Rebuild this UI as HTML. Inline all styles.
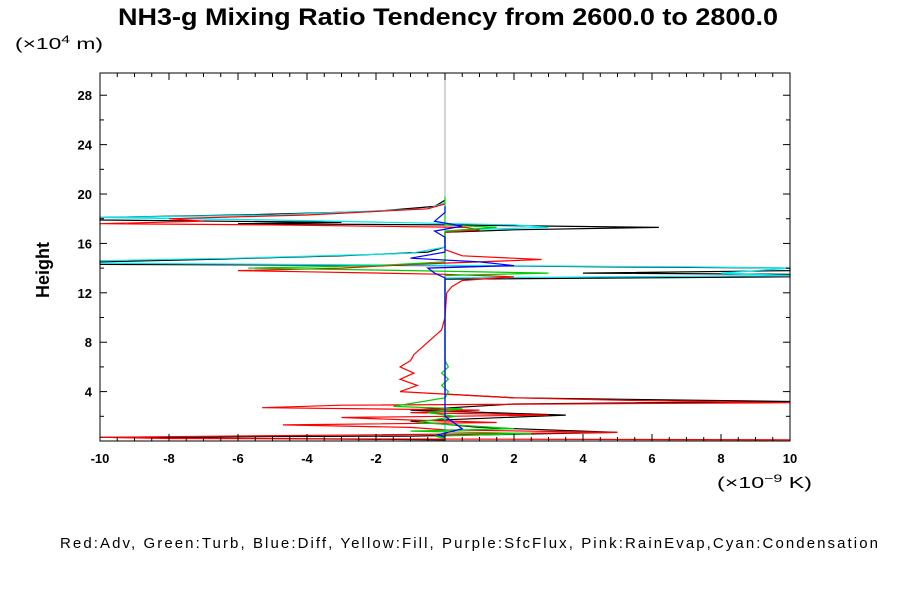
<!DOCTYPE html>
<html><head><meta charset="utf-8"><style>
body{margin:0;background:#fff;}
svg{display:block;font-family:"Liberation Sans",sans-serif;}
</style></head><body>
<svg id="c" width="900" height="600">
<text x="118" y="25" textLength="660" lengthAdjust="spacingAndGlyphs" font-size="24" font-weight="bold">NH3-g Mixing Ratio Tendency from 2600.0 to 2800.0</text>
<text x="15" y="49" font-size="16" textLength="88" lengthAdjust="spacingAndGlyphs">(×10<tspan dy="-6" font-size="11">4</tspan><tspan dy="6"> m)</tspan></text>
<text x="0" y="0" transform="translate(49,270) rotate(-90)" text-anchor="middle" font-size="18" font-weight="bold">Height</text>
<text x="717" y="488" font-size="16" textLength="95" lengthAdjust="spacingAndGlyphs">(×10<tspan dy="-6" font-size="11">−9</tspan><tspan dy="6"> K)</tspan></text>
<text x="60" y="548" font-size="15" textLength="818" lengthAdjust="spacing">Red:Adv, Green:Turb, Blue:Diff, Yellow:Fill, Purple:SfcFlux, Pink:RainEvap,Cyan:Condensation</text>
<g id="marks"></g>
<g id="axes"></g>
</svg>
<script>
const xTicks=[-10,-8,-6,-4,-2,0,2,4,6,8,10];
const yTicks=[4,8,12,16,20,24,28];
const black=[[19.5,0],[19,-0.3],[18.6,-2],[18.3,-6],[18.1,-10],[17.9,-10],[17.7,-3],[17.6,-6],[17.5,0],[17.3,6.2],[17.1,2],[16.9,0],[15.7,0],[15.3,-0.5],[15,-3],[14.7,-7],[14.5,-10],[14.3,-10],[14.2,0],[14.0,10],[13.8,10],[13.6,4],[13.5,10],[13.3,10],[13.1,0],[12.5,0],[3.8,0],[3.5,2],[3.2,10],[3.0,2],[2.5,-1],[2.1,3.5],[1.6,-1],[1.1,1],[0.7,5],[0.4,-1],[0.3,-10],[0.1,0]];
const red=[[19.2,0],[18.8,-0.5],[18.3,-4],[18.0,-8],[17.8,-7],[17.6,-10],[17.5,-5],[17.3,0.6],[17.1,1],[16.9,0],[15.5,0],[15.0,0.5],[14.7,2.8],[14.5,1],[14.3,-1],[14.0,-3],[13.8,-6],[13.7,-4],[13.5,0],[13.3,2],[13.2,1.5],[13,0.5],[12.5,0.2],[12,0.05],[10,0],[9,-0.1],[8,-0.5],[7,-0.9],[6.5,-1],[6,-1.3],[5.5,-0.9],[5,-1.3],[4.5,-0.8],[4,-1.3],[3.8,0],[3.5,2],[3.3,5],[3.1,10],[2.9,-3],[2.7,-5.3],[2.5,1],[2.3,-1],[2.1,3],[1.9,-3],[1.7,-1],[1.5,1.5],[1.3,-4.7],[1.1,-1],[0.9,0],[0.7,5],[0.5,-2],[0.3,-10],[0.2,-8],[0.1,10]];
const green=[[19.8,0],[17.5,0],[17.3,1.5],[17,0],[14.5,0],[14.2,-2],[14,-5.7],[13.8,-1],[13.6,3],[13.4,0],[13,0],[6.5,0],[6,0.1],[5.5,-0.1],[5,0.1],[4.5,-0.1],[4,0.1],[3.5,0],[2.8,-1.5],[2.6,0.5],[2.3,-0.5],[2,0.3],[1.5,-0.8],[1,2],[0.8,-1],[0.6,2.5],[0.4,-0.3],[0.2,0]];
const blue=[[19,0],[18.5,0],[17.8,-0.3],[17.4,0.5],[17,-0.3],[16.5,0],[15.3,0],[14.8,-1],[14.5,1],[14.2,2],[14,-0.5],[13.6,-0.3],[13.2,0],[4,0],[2,0],[1,0.5],[0.5,-0.2],[0.3,0]];
const cyan=[[19.3,0],[18.8,-0.5],[18.3,-5],[18.1,-10],[17.9,-5],[17.5,2],[17.3,3],[17.1,0.5],[16.9,0],[15.7,0],[15.2,-1],[14.8,-6],[14.6,-10],[14.4,-10],[14.1,7],[14,10],[13.6,8],[13.4,10],[13.2,0],[12,0],[0,0]];
const L=100,R=790,T=73,B=441,XMIN=-10,XMAX=10,YMIN=0,YMAX=29.8;
const sx=v=>L+(v-XMIN)/(XMAX-XMIN)*(R-L);
const sy=h=>B-(h-YMIN)/(YMAX-YMIN)*(B-T);
const NS='http://www.w3.org/2000/svg';
const marks=document.getElementById('marks'),axes=document.getElementById('axes');
function mk(tag,at,parent){const e=document.createElementNS(NS,tag);for(const k in at)e.setAttribute(k,at[k]);parent.appendChild(e);return e;}
const zl=mk('line',{x1:sx(0),x2:sx(0),y1:T,y2:B,stroke:'#aaa','stroke-width':1},marks);


function series(arr,col,name){
  const pts=arr.map(p=>{const v=Math.max(XMIN,Math.min(XMAX,p[1]));return sx(v).toFixed(1)+','+sy(p[0]).toFixed(1);}).join(' ');
  const pl=mk('polyline',{points:pts,fill:'none',stroke:col,'stroke-width':1.2},marks);
  
  
}
series(black,'#000','series-total');
series(cyan,'#00e5ee','series-condensation');
series(red,'#f00','series-adv');
series(green,'#0c0','series-turb');
series(blue,'#00f','series-diff');
const fr=mk('rect',{x:L,y:T,width:R-L,height:B-T,fill:'none',stroke:'#000','stroke-width':1},axes);


for(let v=XMIN;v<=XMAX+1e-9;v+=0.5){const big=Math.abs(v-Math.round(v/2)*2)<1e-6;const len=big?7:4;
  mk('line',{x1:sx(v),x2:sx(v),y1:B,y2:B-len,stroke:'#000'},axes);mk('line',{x1:sx(v),x2:sx(v),y1:T,y2:T+len,stroke:'#000'},axes);}
for(let h=2;h<YMAX;h+=2){const big=h%4===0;const len=big?7:4;
  mk('line',{x1:L,x2:L+len,y1:sy(h),y2:sy(h),stroke:'#000'},axes);mk('line',{x1:R,x2:R-len,y1:sy(h),y2:sy(h),stroke:'#000'},axes);}
xTicks.forEach(v=>{const t=mk('text',{x:sx(v),y:B+22,'text-anchor':'middle','font-size':13,'font-weight':'bold'},axes);t.textContent=v;
  
  });
yTicks.forEach(h=>{const t=mk('text',{x:L-8,y:sy(h)+5,'text-anchor':'end','font-size':13,'font-weight':'bold'},axes);t.textContent=h;
  
  });
</script>
</body></html>
